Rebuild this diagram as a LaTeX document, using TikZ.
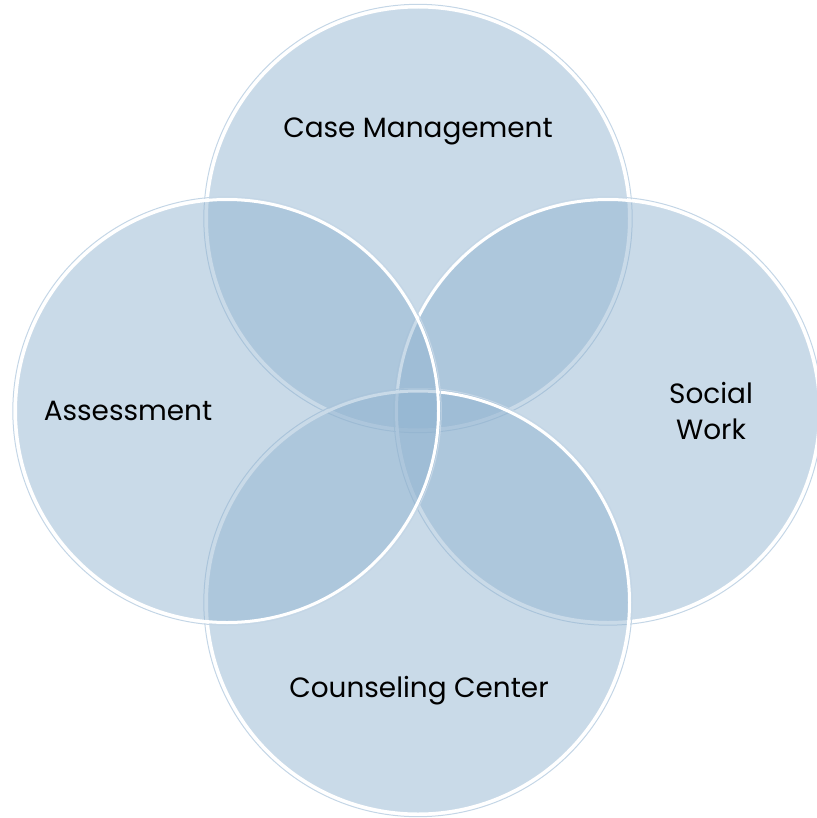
\documentclass[tikz,border=0pt]{standalone}
\usepackage{fontspec}
\setmainfont{Poppins}
\definecolor{venncol}{RGB}{143,178,207}
\definecolor{ringcol}{RGB}{196,214,230}
\begin{document}
\begin{tikzpicture}[x=1bp,y=-1bp]
\useasboundingbox (0,0) rectangle (817,818);
\tikzset{
  venn/.style={circle, inner sep=0pt, minimum size=423bp, fill=venncol, fill opacity=0.48, draw=white, draw opacity=1, line width=3bp},
  ring/.style={draw=ringcol, line width=1bp},
  lbl/.style={font=\fontsize{28}{36}\selectfont, text=black, align=center, inner sep=0pt}
}
\node[venn] (top) at (418,218.5) {};
\draw[ring] (top.center) circle (214.2);
\node[venn] (right) at (608,411) {};
\draw[ring] (right.center) circle (214.2);
\node[venn] (bottom) at (418,602.5) {};
\draw[ring] (bottom.center) circle (214.2);
\node[venn] (left) at (227,411) {};
\draw[ring] (left.center) circle (214.2);
\node[lbl] (tcm) at (418,131) {Case Management};
\node[lbl] (tas) at (128,411) {Assessment};
\node[lbl] (tsw) at (711,411) {Social\\Work};
\node[lbl] (tcc) at (419,691) {Counseling Center};
\end{tikzpicture}
\end{document}
